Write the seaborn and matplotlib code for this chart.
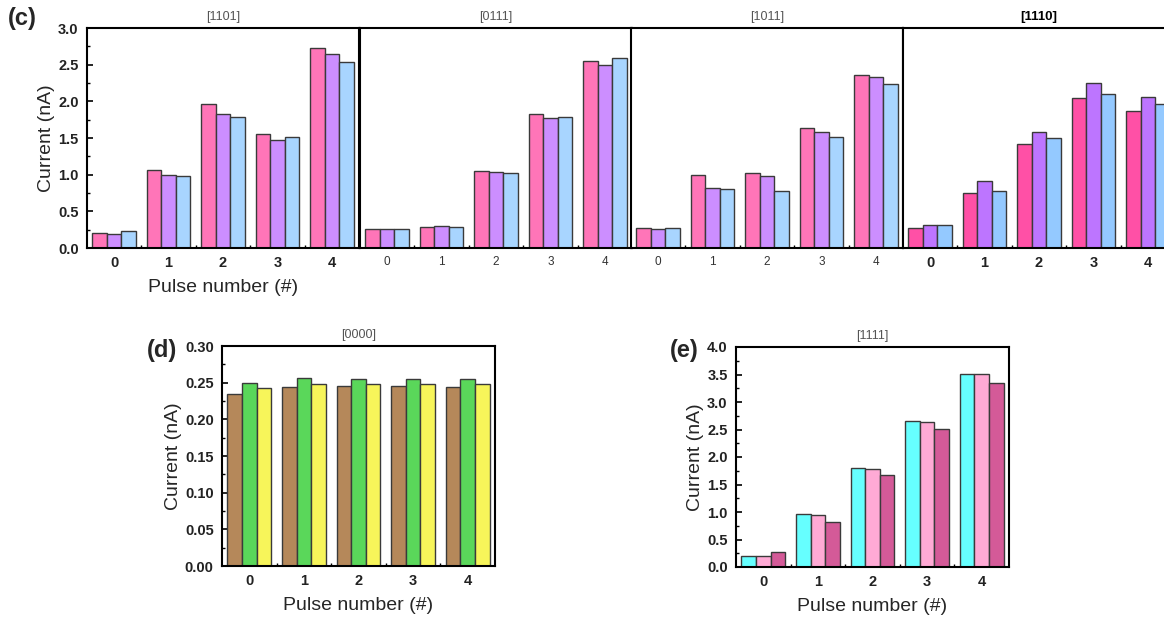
import numpy as np
import pandas as pd
import matplotlib
matplotlib.use("Agg")
import matplotlib.pyplot as plt
from matplotlib.ticker import MultipleLocator, FixedLocator
import seaborn as sns

sns.set_theme(style="white")
plt.rcParams['font.family'] = ['Liberation Sans', 'DejaVu Sans']

pulses = ["0", "1", "2", "3", "4"]

# Panel (c) - four codes, three repeats each
c_titles = ["[1101]", "[0111]", "[1011]", "[1110]"]
c_1101 = [[0.21, 1.06, 1.965, 1.56, 2.73],
          [0.196, 1.00, 1.83, 1.47, 2.645],
          [0.228, 0.98, 1.78, 1.52, 2.535]]
c_0111 = [[0.26, 0.287, 1.044, 1.833, 2.55],
          [0.26, 0.305, 1.03, 1.77, 2.49],
          [0.26, 0.29, 1.017, 1.78, 2.585]]
c_1011 = [[0.275, 0.99, 1.017, 1.632, 2.357],
          [0.264, 0.82, 0.98, 1.578, 2.33],
          [0.278, 0.807, 0.78, 1.514, 2.234]]
c_1110 = [[0.278, 0.752, 1.414, 2.047, 1.87],
          [0.319, 0.912, 1.587, 2.253, 2.06],
          [0.319, 0.78, 1.496, 2.098, 1.965]]

# Panel (d) [0000]
d_0000 = [[0.2345, 0.2436, 0.245, 0.245, 0.244],
          [0.2495, 0.256, 0.2545, 0.2545, 0.2548],
          [0.243, 0.2477, 0.2477, 0.2477, 0.2478]]

# Panel (e) [1111]
e_1111 = [[0.20, 0.955, 1.795, 2.65, 3.516],
          [0.20, 0.937, 1.776, 2.64, 3.516],
          [0.27, 0.816, 1.674, 2.51, 3.34]]

pal_c = ["#FF75B8", "#CC8EFF", "#A8D5FF"]
pal_c4 = ["#FF50A6", "#BD75FF", "#94C9FF"]
pal_d = ["#B5885A", "#5AD75A", "#F7F55A"]
pal_e = ["#66FFFF", "#FFAAD5", "#D45A98"]

W, H = 1164, 617
fig = plt.figure(figsize=(W / 100, H / 100), dpi=100)


def to_df(vals):
    rows = []
    for r, series in enumerate(vals):
        for p, v in zip(pulses, series):
            rows.append({"pulse": p, "rep": f"r{r}", "current": v})
    return pd.DataFrame(rows)


def make_ax(left, top, right, bottom):
    return fig.add_axes([left / W, 1 - bottom / H, (right - left) / W, (bottom - top) / H])


def draw(ax, vals, pal, ymax, ymajor, yminor):
    df = to_df(vals)
    sns.barplot(data=df, x="pulse", y="current", hue="rep", palette=pal,
                width=0.8, edgecolor="#3a3a3a", linewidth=1.0, ax=ax,
                legend=False, errorbar=None, saturation=1)
    ax.set_xlim(-0.5, 4.5)
    ax.set_ylim(0, ymax)
    ax.yaxis.set_major_locator(MultipleLocator(ymajor))
    ax.yaxis.set_minor_locator(MultipleLocator(yminor))
    ax.xaxis.set_minor_locator(FixedLocator([0.5, 1.5, 2.5, 3.5]))
    ax.tick_params(axis="both", which="major", direction="in", length=4, width=1.2,
                   color="black", left=True, bottom=True, pad=6)
    ax.tick_params(axis="both", which="minor", direction="in", length=2, width=1.0,
                   color="black", left=True, bottom=True)
    for s in ax.spines.values():
        s.set_visible(True)
        s.set_color("black")
        s.set_linewidth(1.5)
    ax.set_xlabel("")
    ax.set_ylabel("")
    ax.set_facecolor("white")


tick_fs = 10.5
lab_fs = 14

# Top row panels
lefts = [87, 360, 631, 903]
datas = [c_1101, c_0111, c_1011, c_1110]
for i, (lx, vals, title) in enumerate(zip(lefts, datas, c_titles)):
    ax = make_ax(lx, 28, lx + 272, 248)
    pal = pal_c4 if i == 3 else pal_c
    draw(ax, vals, pal, 3.0, 0.5, 0.25)
    if i == 0:
        ax.set_yticks(np.arange(0, 3.01, 0.5))
        ax.set_yticklabels([f"{v:.1f}" for v in np.arange(0, 3.01, 0.5)],
                           fontsize=tick_fs, fontweight="bold", color="#222222")
        ax.set_ylabel("Current (nA)", fontsize=lab_fs, labelpad=2)
        ax.set_xlabel("Pulse number (#)", fontsize=lab_fs, labelpad=6)
        ax.set_title(title, fontsize=9, color="#555555", pad=6)
        for t in ax.get_xticklabels():
            t.set_fontsize(tick_fs)
            t.set_fontweight("bold")
            t.set_color("#222222")
    else:
        ax.tick_params(axis="y", which="both", left=False, labelleft=False)
        if i == 3:
            ax.set_title(title, fontsize=9.5, color="black", fontweight="bold", pad=6)
            for t in ax.get_xticklabels():
                t.set_fontsize(tick_fs)
                t.set_fontweight("bold")
                t.set_color("#222222")
        else:
            ax.set_title(title, fontsize=9, color="#555555", pad=6)
            for t in ax.get_xticklabels():
                t.set_fontsize(8.5)
                t.set_color("#333333")
    if i == 3:
        ax.spines["right"].set_visible(False)

# Panel (d)
axd = make_ax(222, 346, 495, 566)
draw(axd, d_0000, pal_d, 0.30, 0.05, 0.025)
axd.set_yticks(np.arange(0, 0.301, 0.05))
axd.set_yticklabels([f"{v:.2f}" for v in np.arange(0, 0.301, 0.05)],
                    fontsize=tick_fs, fontweight="bold", color="#222222")
axd.set_ylabel("Current (nA)", fontsize=lab_fs, labelpad=2)
axd.set_xlabel("Pulse number (#)", fontsize=lab_fs, labelpad=6)
axd.set_title("[0000]", fontsize=9, color="#555555", pad=6)
for t in axd.get_xticklabels():
    t.set_fontsize(tick_fs)
    t.set_fontweight("bold")
    t.set_color("#222222")

# Panel (e)
axe = make_ax(736, 347, 1009, 567)
draw(axe, e_1111, pal_e, 4.0, 0.5, 0.25)
axe.set_yticks(np.arange(0, 4.01, 0.5))
axe.set_yticklabels([f"{v:.1f}" for v in np.arange(0, 4.01, 0.5)],
                    fontsize=tick_fs, fontweight="bold", color="#222222")
axe.set_ylabel("Current (nA)", fontsize=lab_fs, labelpad=2)
axe.set_xlabel("Pulse number (#)", fontsize=lab_fs, labelpad=6)
axe.set_title("[1111]", fontsize=9, color="#555555", pad=6)
for t in axe.get_xticklabels():
    t.set_fontsize(tick_fs)
    t.set_fontweight("bold")
    t.set_color("#222222")

# Panel letters
fig.text(22 / W, 1 - 18 / H, "(c)", fontsize=17, fontweight="bold", ha="center", va="center")
fig.text(162 / W, 1 - 351 / H, "(d)", fontsize=17, fontweight="bold", ha="center", va="center")
fig.text(684 / W, 1 - 351 / H, "(e)", fontsize=17, fontweight="bold", ha="center", va="center")

fig.savefig("out.png", dpi=100, facecolor="white")
